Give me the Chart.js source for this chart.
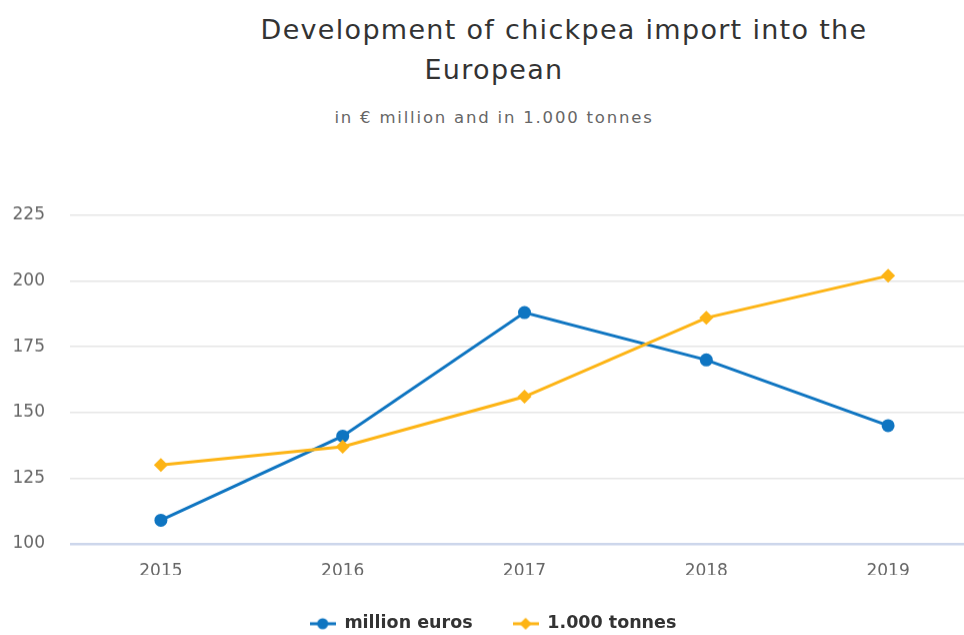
<!DOCTYPE html>
<html>
<head>
<meta charset="utf-8">
<script src="https://cdn.jsdelivr.net/npm/chart.js@4/dist/chart.umd.min.js"></script>
<style>
  html, body { margin: 0; padding: 0; background: #fff; overflow: hidden; width: 964px; height: 635px; }
  .title { position: absolute; font-family: 'DejaVu Sans', sans-serif; color: #333; white-space: nowrap; transform: translateX(-50%); }
  #t1 { left: 564px; top: 14px; font-size: 27px; letter-spacing: 1.3px; }
  #t2 { left: 494px; top: 54px; font-size: 27px; letter-spacing: 1.3px; }
  #sub { left: 494px; top: 108px; font-size: 16.5px; letter-spacing: 1.8px; color: #666; }
  #wrap { position: absolute; left: 0; top: 0; width: 986px; height: 641.5px; }
</style>
</head>
<body>
<div class="title" id="t1">Development of chickpea import into the</div>
<div class="title" id="t2">European</div>
<div class="title" id="sub">in € million and in 1.000 tonnes</div>
<div id="wrap"><canvas id="chart"></canvas></div>
<script>
const years = ['2015', '2016', '2017', '2018', '2019'];
const millionEuros = [109, 141, 188, 170, 145];
const thousandTonnes = [130, 137, 156, 186, 202];
const yTicks = [100, 125, 150, 175, 200, 225];

const BLUE = '#0f75c1';
const ORANGE = '#fdb415';

// small legend symbols: line with the marker in the middle
function legendSymbol(color, shape) {
  const c = document.createElement('canvas');
  c.width = 26; c.height = 14;
  const g = c.getContext('2d');
  g.strokeStyle = color;
  g.lineWidth = 3;
  g.beginPath(); g.moveTo(0, 7); g.lineTo(26, 7); g.stroke();
  g.fillStyle = color;
  g.beginPath();
  if (shape === 'circle') {
    g.arc(13, 7, 5.5, 0, Math.PI * 2);
  } else {
    g.moveTo(13, 1); g.lineTo(19, 7); g.lineTo(13, 13); g.lineTo(7, 7); g.closePath();
  }
  g.fill();
  return c;
}

const ctx = document.getElementById('chart');

new Chart(ctx, {
  type: 'line',
  data: {
    labels: years,
    datasets: [{
      label: 'million euros',
      data: millionEuros,
      borderColor: BLUE,
      backgroundColor: BLUE,
      borderWidth: 3,
      pointStyle: 'circle',
      pointRadius: 6.5,
      pointBackgroundColor: BLUE,
      pointBorderWidth: 0,
      tension: 0,
      order: 2,
      legendSymbol: legendSymbol(BLUE, 'circle')
    }, {
      label: '1.000 tonnes',
      data: thousandTonnes,
      borderColor: ORANGE,
      backgroundColor: ORANGE,
      borderWidth: 3,
      pointStyle: 'rectRot',
      pointRadius: 7,
      pointBackgroundColor: ORANGE,
      pointBorderWidth: 0,
      tension: 0,
      order: 1,
      legendSymbol: legendSymbol(ORANGE, 'diamond')
    }]
  },
  options: {
    responsive: true,
    maintainAspectRatio: false,
    animation: false,
    layout: { padding: { top: 215, left: 0, right: 0, bottom: 0 } },
    plugins: {
      tooltip: { enabled: false },
      legend: {
        position: 'bottom',
        labels: {
          usePointStyle: true,
          pointStyleWidth: 26,
          padding: 40,
          color: '#333',
          font: { family: 'DejaVu Sans', size: 17.5, weight: 'bold' },
          sort: (a, b) => a.datasetIndex - b.datasetIndex,
          generateLabels: (chart) => chart.data.datasets.map((ds, i) => ({
            text: ds.label,
            fillStyle: ds.borderColor,
            strokeStyle: ds.borderColor,
            fontColor: '#333',
            lineWidth: 0,
            pointStyle: ds.legendSymbol,
            datasetIndex: i,
            hidden: false
          }))
        }
      }
    },
    scales: {
      x: {
        offset: true,
        grid: { display: false },
        border: { display: false },
        ticks: {
          color: '#666',
          padding: 9,
          font: { family: 'DejaVu Sans', size: 17 }
        },
        afterFit: (scale) => { scale.height = 31; }
      },
      y: {
        min: yTicks[0],
        max: yTicks[yTicks.length - 1],
        border: { display: false },
        grid: {
          drawTicks: false,
          color: (c) => c.tick && c.tick.value === yTicks[0] ? '#ccd6eb' : '#e6e6e6',
          lineWidth: (c) => c.tick && c.tick.value === yTicks[0] ? 2.5 : 1.5
        },
        ticks: {
          stepSize: 25,
          color: '#666',
          padding: 25,
          font: { family: 'DejaVu Sans', size: 17 }
        },
        afterFit: (scale) => { scale.width = 70; }
      }
    }
  }
});
</script>
</body>
</html>
